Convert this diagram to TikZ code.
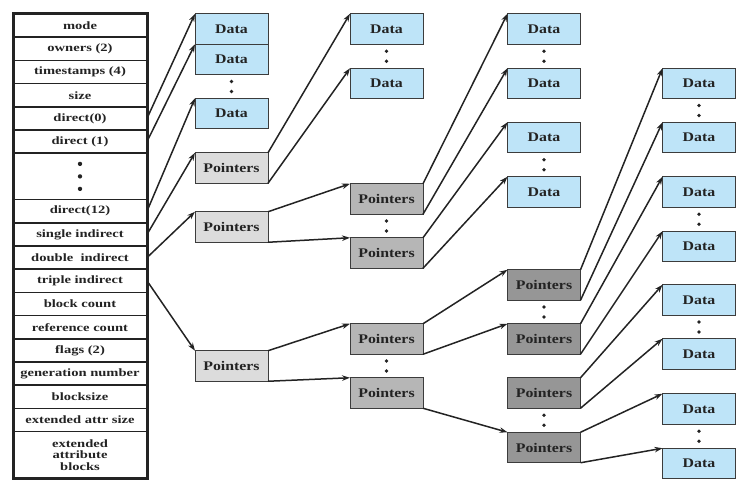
\documentclass[tikz,border=0pt]{standalone}
\usepackage{fontspec}
\newfontfamily\inodefont{Liberation Serif}[FakeStretch=1.3]
\newfontfamily\boxfont{Liberation Serif}[FakeStretch=1.2]
\usetikzlibrary{arrows.meta,positioning,calc}
\definecolor{databl}{RGB}{190,228,248}
\definecolor{ptrA}{RGB}{220,220,220}
\definecolor{ptrB}{RGB}{182,182,182}
\definecolor{ptrC}{RGB}{150,150,150}
\definecolor{edgec}{RGB}{60,60,60}
\definecolor{ink}{RGB}{35,35,35}
\begin{document}
\begin{tikzpicture}[x=1pt,y=-1pt,
  row/.style={draw=ink, line width=1.7pt, minimum width=134pt, minimum height=23.2pt,
    inner sep=0pt, outer sep=0pt, font=\inodefont\fontsize{11.2}{11.6}\selectfont\bfseries, text=ink, align=center},
  blk/.style={draw=edgec, line width=1pt, minimum width=73pt, minimum height=30.5pt,
    inner sep=0pt, outer sep=0pt, font=\boxfont\fontsize{13.2}{14}\selectfont\bfseries, text=ink},
  databox/.style={blk, fill=databl},
  ptrone/.style={blk, fill=ptrA},
  ptrtwo/.style={blk, fill=ptrB},
  ptrthree/.style={blk, fill=ptrC},
  link/.style={draw=ink, line width=1.5pt, -{Stealth[length=8pt,width=5.5pt]}}
]
\useasboundingbox (0,0) rectangle (749,487);
% inode table
\node[row, anchor=north] (r1) at (80,14) {mode};
\node[row, below=0pt of r1] (r2) {owners (2)};
\node[row, below=0pt of r2] (r3) {timestamps (4)};
\node[row, below=0pt of r3] (r4) {size};
\node[row, below=0pt of r4] (r5) {direct(0)};
\node[row, below=0pt of r5] (r6) {direct (1)};
\node[row, below=0pt of r6, minimum height=46.4pt] (r7) {};
\node[row, below=0pt of r7] (r8) {direct(12)};
\node[row, below=0pt of r8] (r9) {single indirect};
\node[row, below=0pt of r9] (r10) {double\ \ indirect};
\node[row, below=0pt of r10] (r11) {triple indirect};
\node[row, below=0pt of r11] (r12) {block count};
\node[row, below=0pt of r12] (r13) {reference count};
\node[row, below=0pt of r13] (r14) {flags (2)};
\node[row, below=0pt of r14] (r15) {generation number};
\node[row, below=0pt of r15] (r16) {blocksize};
\node[row, below=0pt of r16] (r17) {extended attr size};
\node[row, below=0pt of r17, minimum height=46.4pt] (r18) {extended\\attribute\\blocks};
\draw[ink, line width=3pt] (r1.north west) rectangle (r18.south east);
\foreach \dy in {-12.5,0,12.5} \fill[ink] ($(r7.center)+(0,\dy)$) circle (2.2pt);

% column 1
\node[databox] (c1d1) at (231.5,29) {Data};
\node[databox, below=0pt of c1d1] (c1d2) {Data};
\node[databox] (c1d3) at (231.5,113.5) {Data};
\node[ptrone] (c1pA) at (231.5,168) {Pointers};
\node[ptrone] (c1pB) at (231.5,227) {Pointers};
\node[ptrone] (c1pC) at (231.5,366) {Pointers};
% column 2
\node[databox] (c2d1) at (386.5,29) {Data};
\node[databox] (c2d2) at (386.5,83.5) {Data};
\node[ptrtwo] (c2pA) at (386.5,199) {Pointers};
\node[ptrtwo] (c2pB) at (386.5,253) {Pointers};
\node[ptrtwo] (c2pC) at (386.5,339) {Pointers};
\node[ptrtwo] (c2pD) at (386.5,393) {Pointers};
% column 3
\node[databox] (c3d1) at (544,29) {Data};
\node[databox] (c3d2) at (544,83.5) {Data};
\node[databox] (c3d3) at (544,137.5) {Data};
\node[databox] (c3d4) at (544,192) {Data};
\node[ptrthree] (c3pA) at (544,285) {Pointers};
\node[ptrthree] (c3pB) at (544,339) {Pointers};
\node[ptrthree] (c3pC) at (544,393) {Pointers};
\node[ptrthree] (c3pD) at (544,447.5) {Pointers};
% column 4
\node[databox] (c4d1) at (699,83.5) {Data};
\node[databox] (c4d2) at (699,137.5) {Data};
\node[databox] (c4d3) at (699,192) {Data};
\node[databox] (c4d4) at (699,246.5) {Data};
\node[databox] (c4d5) at (699,300) {Data};
\node[databox] (c4d6) at (699,354) {Data};
\node[databox] (c4d7) at (699,409) {Data};
\node[databox] (c4d8) at (699,463.5) {Data};

% vertical dots between blocks
\foreach \a/\b in {c1d2/c1d3, c2d1/c2d2, c2pA/c2pB, c2pC/c2pD, c3d1/c3d2, c3d3/c3d4,
  c3pA/c3pB, c3pC/c3pD, c4d1/c4d2, c4d3/c4d4, c4d5/c4d6, c4d7/c4d8}{
  \fill[ink] ($(\a.south)!0.5!(\b.north)+(0,-5)$) circle (1.9pt);
  \fill[ink] ($(\a.south)!0.5!(\b.north)+(0,5)$) circle (1.9pt);
}

% connectors from the inode
\draw[link] (r5.east) -- (c1d1.north west);
\draw[link] (r6.east) -- (c1d2.north west);
\draw[link] (r8.east) -- (c1d3.north west);
\draw[link] (r9.east) -- (c1pA.north west);
\draw[link] (r10.east) -- (c1pB.north west);
\draw[link] (r11.east) -- (c1pC.north west);
% column 1 -> column 2
\draw[link] (c1pA.north east) -- (c2d1.north west);
\draw[link] (c1pA.south east) -- (c2d2.north west);
\draw[link] (c1pB.north east) -- (c2pA.north west);
\draw[link] (c1pB.south east) -- (c2pB.north west);
\draw[link] (c1pC.north east) -- (c2pC.north west);
\draw[link] (c1pC.south east) -- (c2pD.north west);
% column 2 -> column 3
\draw[link] (c2pA.north east) -- (c3d1.north west);
\draw[link] (c2pA.south east) -- (c3d2.north west);
\draw[link] (c2pB.north east) -- (c3d3.north west);
\draw[link] (c2pB.south east) -- (c3d4.north west);
\draw[link] (c2pC.north east) -- (c3pA.north west);
\draw[link] (c2pC.south east) -- (c3pB.north west);
\draw[link] (c2pD.south east) -- (c3pD.north west);
% column 3 -> column 4
\draw[link] (c3pA.north east) -- (c4d1.north west);
\draw[link] (c3pA.south east) -- (c4d2.north west);
\draw[link] (c3pB.north east) -- (c4d3.north west);
\draw[link] (c3pB.south east) -- (c4d4.north west);
\draw[link] (c3pC.north east) -- (c4d5.north west);
\draw[link] (c3pC.south east) -- (c4d6.north west);
\draw[link] (c3pD.north east) -- (c4d7.north west);
\draw[link] (c3pD.south east) -- (c4d8.north west);
\end{tikzpicture}
\end{document}
